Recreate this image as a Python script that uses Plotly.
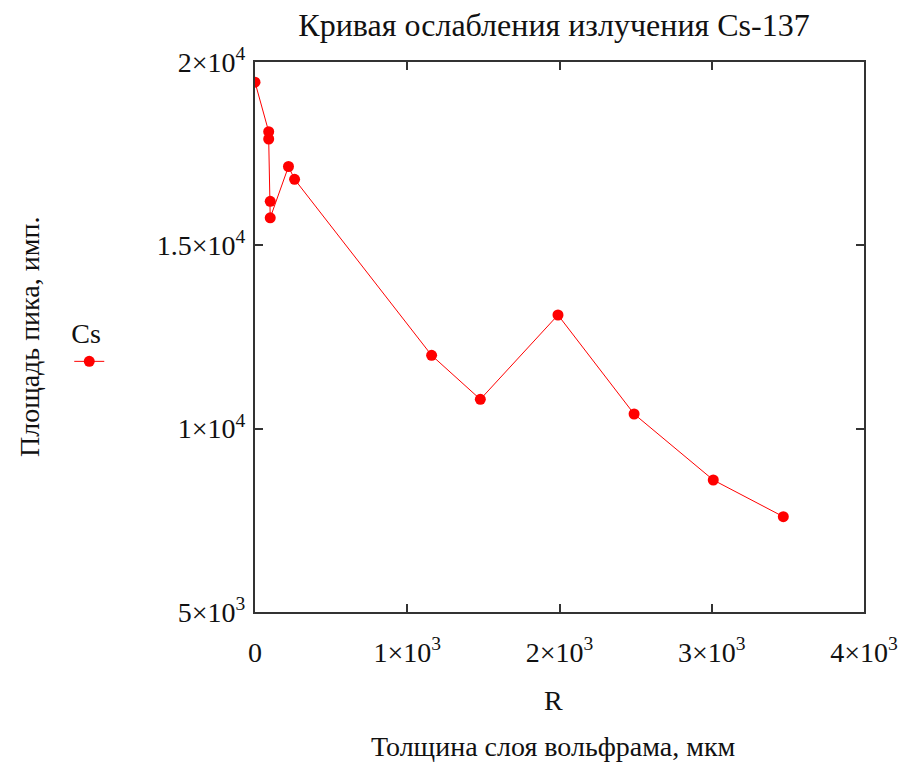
import plotly.graph_objects as go

# Data
thickness = [0, 90, 90, 100, 100, 220, 260, 1160, 1480, 1990, 2490, 3010, 3470]
peak_area = [19450, 18100, 17900, 16200, 15750, 17150, 16800, 12000, 10800, 13100, 10400, 8600, 7600]

x_tickvals = [0, 1000, 2000, 3000, 4000]
x_ticktext = ["0", "1×10<sup>3</sup>", "2×10<sup>3</sup>", "3×10<sup>3</sup>", "4×10<sup>3</sup>"]
y_tickvals = [5000, 10000, 15000, 20000]
y_ticktext = ["5×10<sup>3</sup>", "1×10<sup>4</sup>", "1.5×10<sup>4</sup>", "2×10<sup>4</sup>"]

title_text = "Кривая ослабления излучения Cs-137"
y_title = "Площадь пика, имп."
x_var = "R"
x_title = "Толщина слоя вольфрама, мкм"

FONT = "Liberation Serif"
RED = "#ff0000"
INK = "#111111"

fig = go.Figure()
fig.add_trace(go.Scatter(
    x=thickness, y=peak_area, mode="lines+markers", name=" ",
    line=dict(color=RED, width=1),
    marker=dict(color=RED, size=11),
    showlegend=True,
))

axis_common = dict(
    showgrid=False, zeroline=False, showline=True, linecolor="#333333", linewidth=2,
    mirror="ticks", ticks="inside", ticklen=8, tickcolor="#333333", tickwidth=1.5,
    tickfont=dict(family=FONT, size=28, color=INK),
)

fig.update_layout(
    width=902, height=756,
    margin=dict(l=247, r=44, t=54, b=152),
    paper_bgcolor="white", plot_bgcolor="white",
    font=dict(family=FONT, size=21, color=INK),
    title=dict(text=title_text, x=0.491, xref="paper", xanchor="center",
               y=1 - 17 / 756, yanchor="middle",
               font=dict(family=FONT, size=32, color=INK)),
    xaxis=dict(range=[0, 4000], tickvals=x_tickvals, ticktext=x_ticktext,
               ticklabelstandoff=14, **axis_common),
    yaxis=dict(range=[5000, 20000], tickvals=y_tickvals, ticktext=y_ticktext,
               ticklabelstandoff=2, **axis_common),
    legend=dict(x=-0.305, y=0.555, xanchor="left", yanchor="top",
                title=dict(text="Cs", side="top", font=dict(family=FONT, size=28, color=INK)),
                bgcolor="rgba(0,0,0,0)",
                font=dict(family=FONT, size=18)),
    showlegend=True,
    annotations=[
        dict(text=y_title, xref="paper", yref="paper", x=-0.371, y=0.5,
             textangle=-90, showarrow=False, xanchor="center", yanchor="middle",
             font=dict(family=FONT, size=28, color=INK)),
        dict(text=x_var, xref="paper", yref="paper", x=0.49, y=-0.16,
             showarrow=False, xanchor="center", yanchor="middle",
             font=dict(family=FONT, size=28, color=INK)),
        dict(text=x_title, xref="paper", yref="paper", x=0.49, y=-0.245,
             showarrow=False, xanchor="center", yanchor="middle",
             font=dict(family=FONT, size=28, color=INK)),
    ],
)

fig.write_html("out.html")
